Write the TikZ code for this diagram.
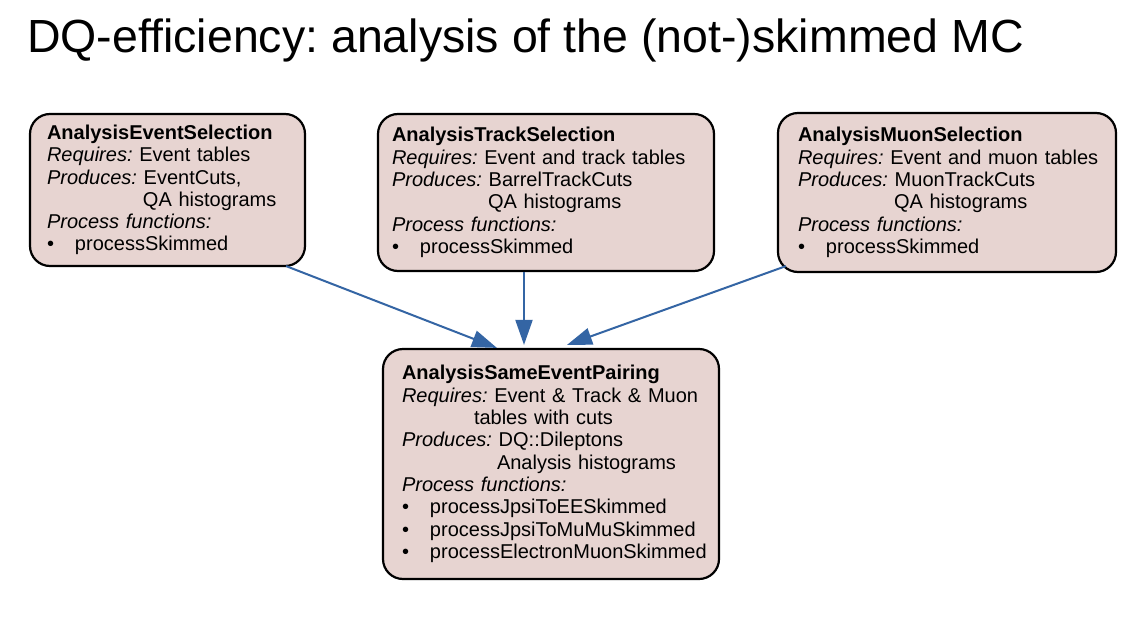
\documentclass[tikz,border=0pt]{standalone}
\usepackage{fontspec}
\setmainfont{Liberation Sans}
\usetikzlibrary{arrows.meta,calc}
\definecolor{boxfill}{HTML}{E7D4D1}
\definecolor{arrowblue}{HTML}{3465A4}
\newcommand{\bul}{\makebox[28pt][l]{\textbullet}}
\frenchspacing
\begin{document}
\begin{tikzpicture}[x=1pt,y=-1pt,
  box/.style={draw=black, line width=2.2pt, fill=boxfill, rounded corners=20pt,
    align=left, font=\fontsize{20}{22.3}\selectfont, inner ysep=0pt},
  conn/.style={draw=arrowblue, line width=2pt, -{Triangle[length=25pt,width=17pt]}}]
\path[fill=white] (0,0) rectangle (1128,640);
\node[anchor=base west, inner sep=0pt, font=\fontsize{46.5}{50}\selectfont] (title) at (27,52) {DQ-efficiency: analysis of the (not-)skimmed MC};

\node[box, minimum width=275pt, minimum height=152pt, inner xsep=17pt, text width=241pt] (e) at (167.5,190) {%
\textbf{AnalysisEventSelection}\\
\textit{Requires:} Event tables\\
\textit{Produces:} EventCuts,\\
\hspace*{96pt}QA histograms\\
\textit{Process functions:}\\
\bul processSkimmed};

\node[box, minimum width=336pt, minimum height=157pt, inner xsep=14pt, text width=308pt] (t) at (546,192.5) {%
\textbf{AnalysisTrackSelection}\\
\textit{Requires:} Event and track tables\\
\textit{Produces:} BarrelTrackCuts\\
\hspace*{96pt}QA histograms\\
\textit{Process functions:}\\
\bul processSkimmed};

\node[box, minimum width=338pt, minimum height=159pt, inner xsep=20pt, text width=298pt] (m) at (947,192.5) {%
\textbf{AnalysisMuonSelection}\\
\mbox{\textit{Requires:} Event and muon tables}\\
\textit{Produces:} MuonTrackCuts\\
\hspace*{96pt}QA histograms\\
\textit{Process functions:}\\
\bul processSkimmed};

\node[box, minimum width=336pt, minimum height=230pt, inner xsep=19pt, text width=298pt] (p) at (551,464) {%
\textbf{AnalysisSameEventPairing}\\
\textit{Requires:} Event \& Track \& Muon\\
\hspace*{72pt}tables with cuts\\
\textit{Produces:} DQ::Dileptons\\
\hspace*{95pt}Analysis histograms\\
\textit{Process functions:}\\
\bul processJpsiToEESkimmed\\
\bul processJpsiToMuMuSkimmed\\
\bul processElectronMuonSkimmed};

\coordinate (e1) at ($(e.south east)+(-20,-1)$);
\coordinate (p1) at ($(p.north west)+(115,0)$);
\coordinate (t1) at ($(t.south)+(-22,0)$);
\coordinate (p2) at ($(p.north)+(-27,-3)$);
\coordinate (m1) at ($(m.south west)+(9,-7)$);
\coordinate (p3) at ($(p.north)+(16,-3)$);
\draw[conn] (e1) -- (p1);
\draw[conn] (t1) -- (p2);
\draw[conn] (m1) -- (p3);
\end{tikzpicture}
\end{document}
